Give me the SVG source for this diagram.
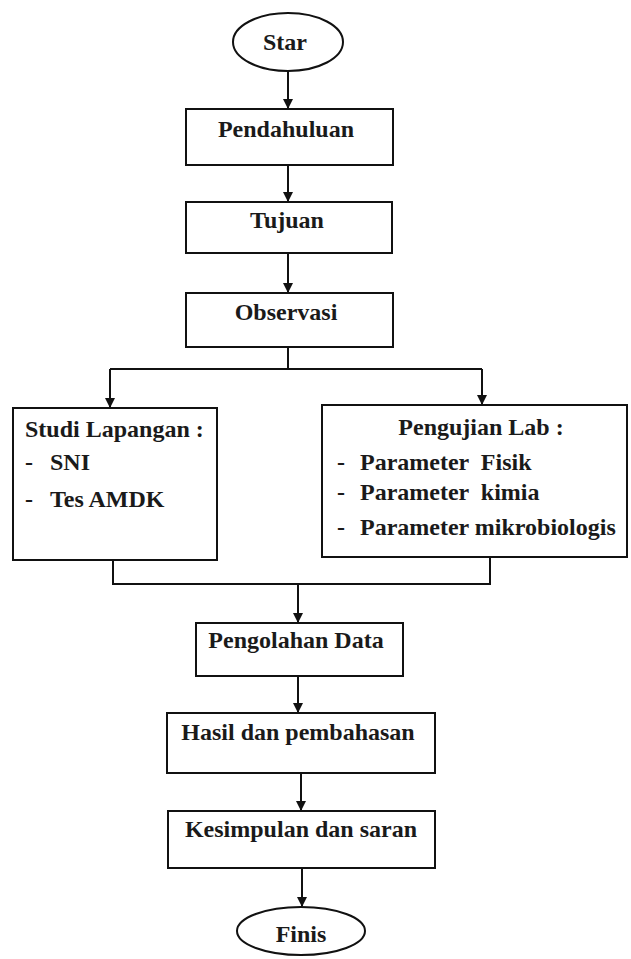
<svg xmlns="http://www.w3.org/2000/svg" width="631" height="959" viewBox="0 0 631 959">
<defs>
<marker id="ah" markerWidth="10" markerHeight="10" refX="9" refY="5" orient="auto" markerUnits="userSpaceOnUse">
<path d="M0,0 L10,5 L0,10 Z" fill="#111"/>
</marker>
<style>
.box{fill:#fff;stroke:#111;stroke-width:2}
.t{font-family:"Liberation Serif","Times New Roman",serif;font-weight:bold;font-size:24px;fill:#1a1a1a}
.c{text-anchor:middle}
.pre{white-space:pre}
.ln{fill:none;stroke:#111;stroke-width:2}
</style>
</defs>
<rect width="631" height="959" fill="#fff"/>
<g id="connectors">
<line class="ln" x1="288" y1="72" x2="288" y2="108" marker-end="url(#ah)"/>
<line class="ln" x1="288" y1="165" x2="288" y2="201" marker-end="url(#ah)"/>
<line class="ln" x1="288" y1="253" x2="288" y2="292" marker-end="url(#ah)"/>
<polyline class="ln" points="288,347 288,369"/>
<polyline class="ln" points="110,369 482,369"/>
<line class="ln" x1="110" y1="369" x2="110" y2="407" marker-end="url(#ah)"/>
<line class="ln" x1="482" y1="369" x2="482" y2="404" marker-end="url(#ah)"/>
<polyline class="ln" points="113,560 113,584 490,584 490,557"/>
<line class="ln" x1="298" y1="584" x2="298" y2="622" marker-end="url(#ah)"/>
<line class="ln" x1="298" y1="676" x2="298" y2="712" marker-end="url(#ah)"/>
<line class="ln" x1="301" y1="773" x2="301" y2="810" marker-end="url(#ah)"/>
<line class="ln" x1="302" y1="868" x2="302" y2="906" marker-end="url(#ah)"/>
</g>
<g id="star">
<ellipse class="box" cx="288" cy="42" rx="55" ry="29"/>
<text class="t c" x="285" y="50">Star</text>
</g>
<g id="pendahuluan">
<rect class="box" x="186" y="109" width="207" height="56"/>
<text class="t c" x="286" y="137">Pendahuluan</text>
</g>
<g id="tujuan">
<rect class="box" x="186" y="202" width="206" height="51"/>
<text class="t c" x="287" y="228">Tujuan</text>
</g>
<g id="observasi">
<rect class="box" x="186" y="293" width="207" height="54"/>
<text class="t c" x="286" y="320">Observasi</text>
</g>
<g id="studi-lapangan">
<rect class="box" x="13" y="408" width="204" height="152"/>
<text class="t" x="25" y="437">Studi Lapangan :</text>
<text class="t" x="25" y="470">-</text>
<text class="t" x="50" y="470">SNI</text>
<text class="t" x="25" y="507">-</text>
<text class="t" x="50" y="507">Tes AMDK</text>
</g>
<g id="pengujian-lab">
<rect class="box" x="322" y="405" width="305" height="152"/>
<text class="t c" x="481" y="435">Pengujian Lab :</text>
<text class="t" x="337" y="470">-</text>
<text class="t pre" x="360" y="470" xml:space="preserve">Parameter  Fisik</text>
<text class="t" x="337" y="500">-</text>
<text class="t pre" x="360" y="500" xml:space="preserve">Parameter  kimia</text>
<text class="t" x="337" y="535">-</text>
<text class="t" x="360" y="535">Parameter mikrobiologis</text>
</g>
<g id="pengolahan-data">
<rect class="box" x="196" y="623" width="207" height="53"/>
<text class="t c" x="296" y="648">Pengolahan Data</text>
</g>
<g id="hasil">
<rect class="box" x="167" y="713" width="268" height="60"/>
<text class="t c" x="298" y="740">Hasil dan pembahasan</text>
</g>
<g id="kesimpulan">
<rect class="box" x="168" y="811" width="267" height="57"/>
<text class="t c" x="301" y="837">Kesimpulan dan saran</text>
</g>
<g id="finis">
<ellipse class="box" cx="301" cy="931" rx="64" ry="24"/>
<text class="t c" x="301" y="942">Finis</text>
</g>
</svg>
